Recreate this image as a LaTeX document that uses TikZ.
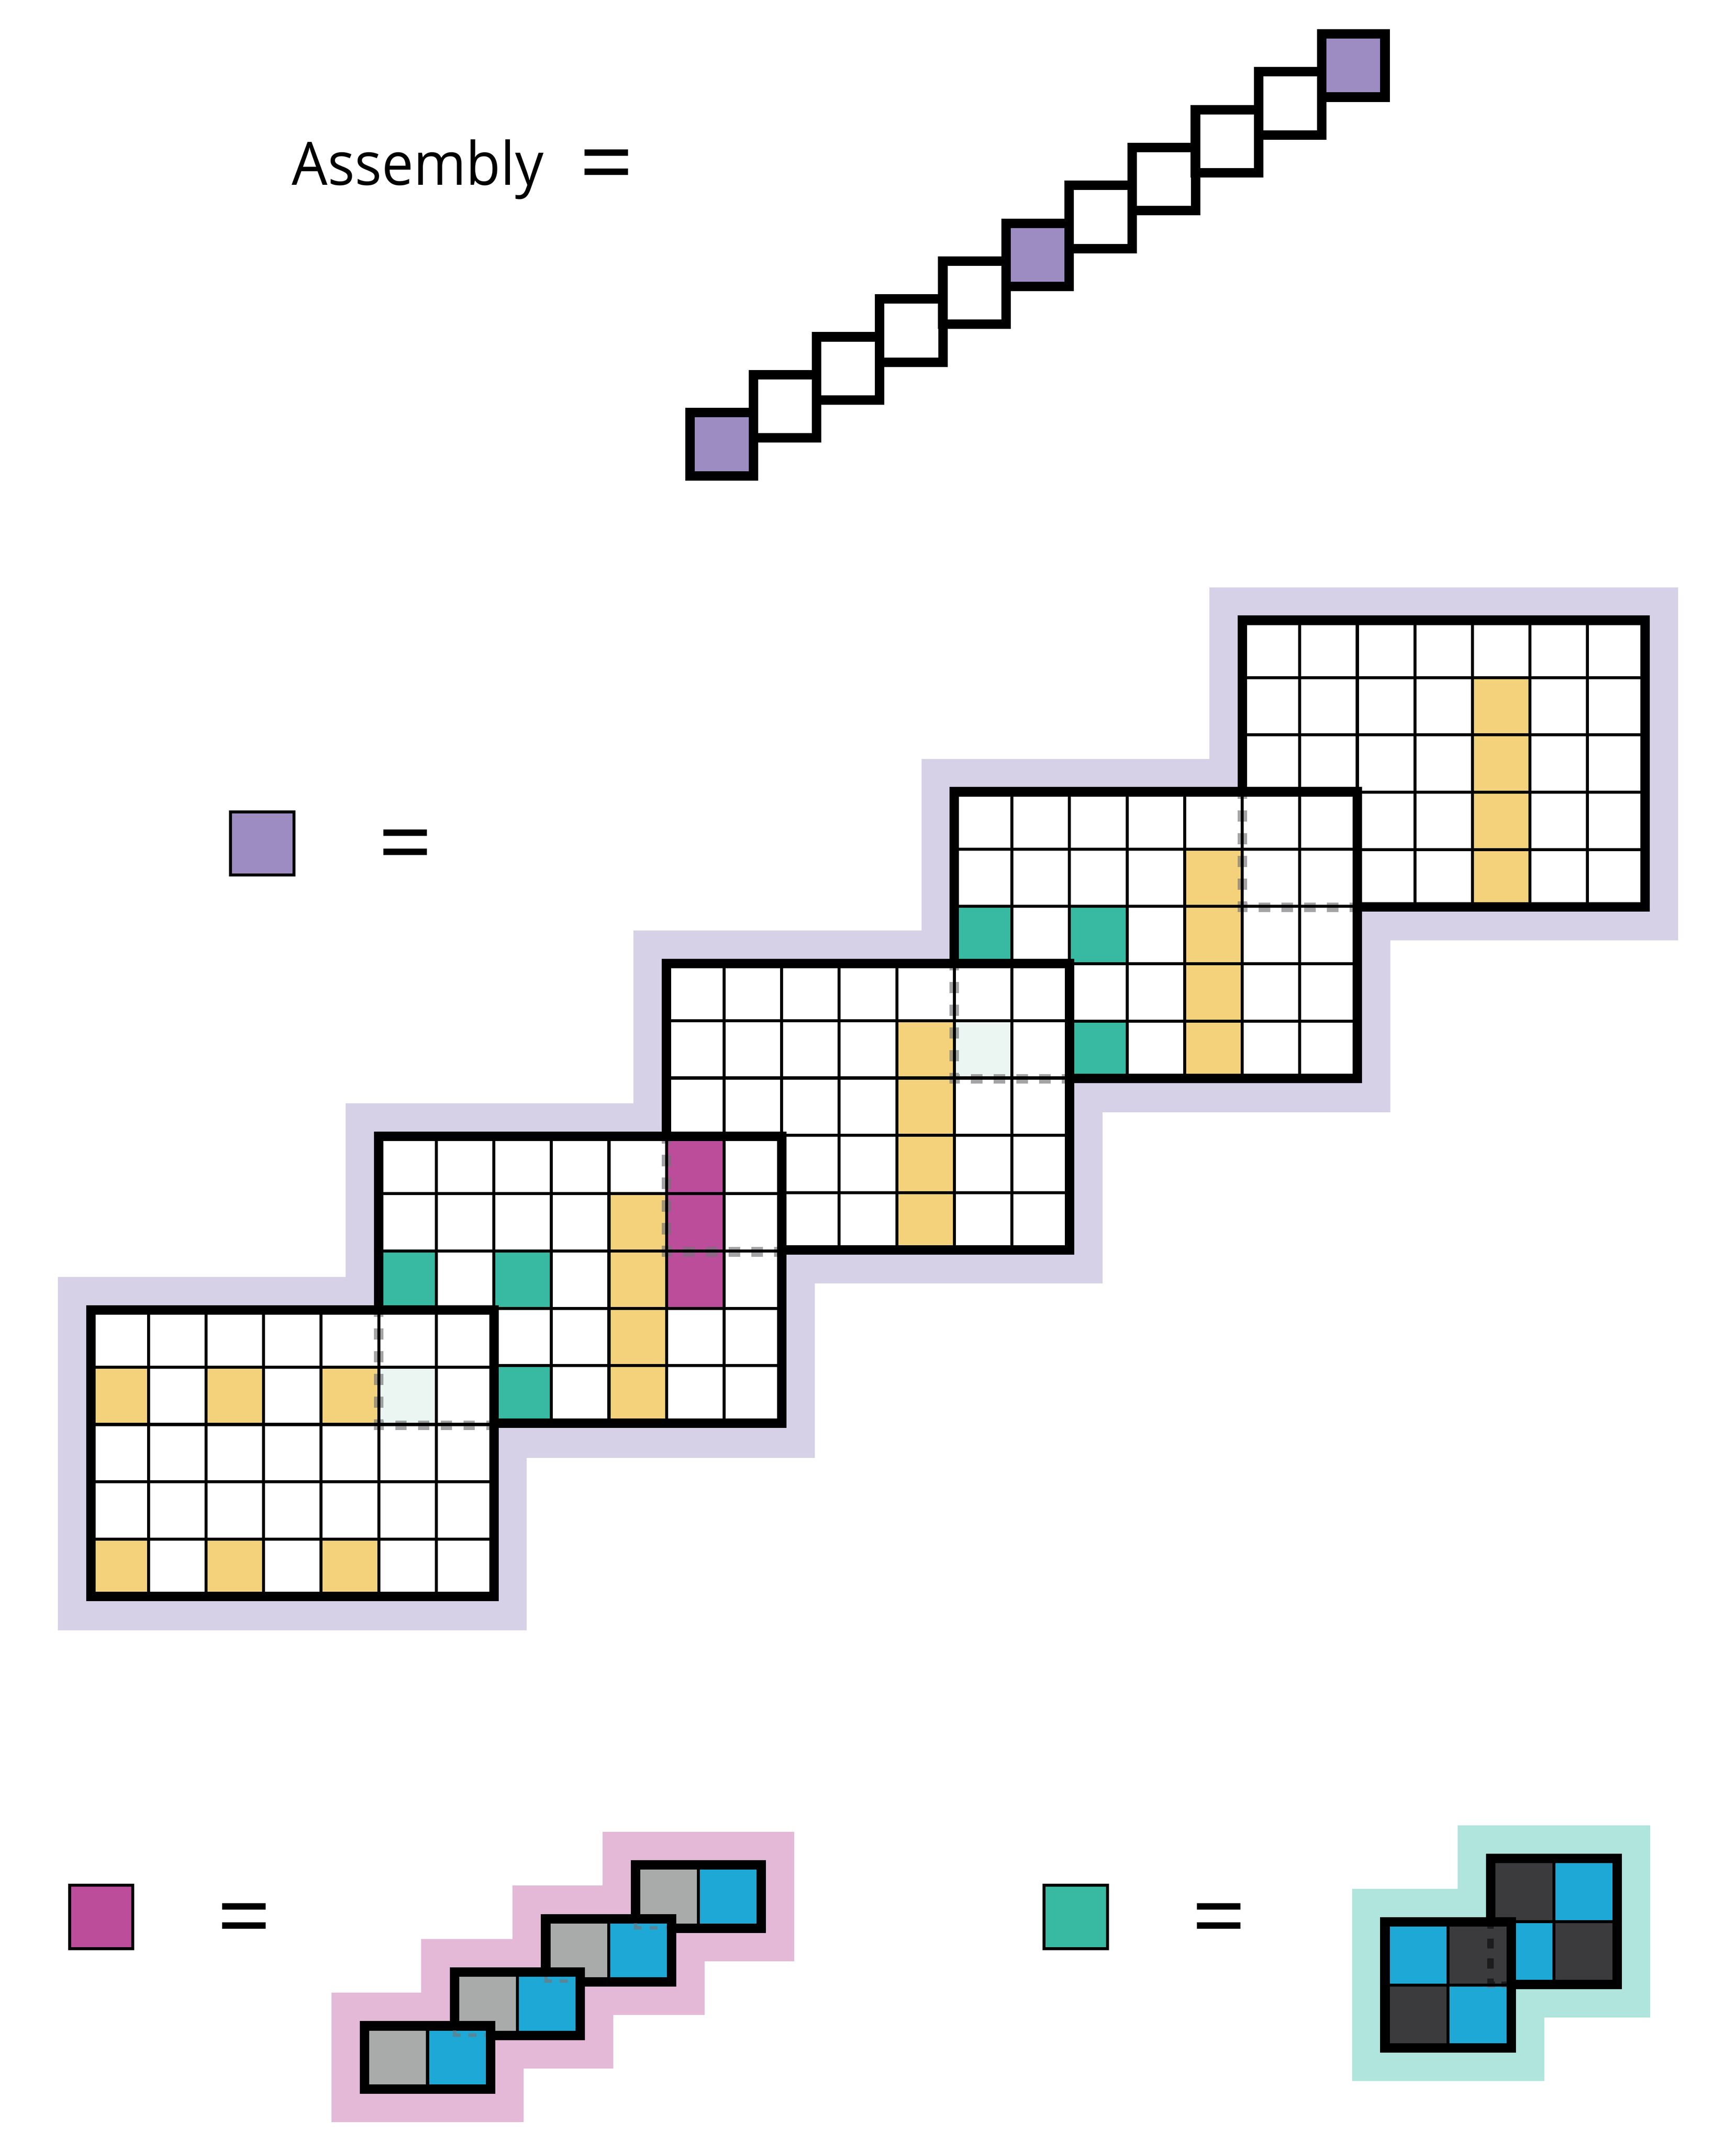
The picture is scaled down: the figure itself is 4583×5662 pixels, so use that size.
\documentclass[tikz,border=0pt]{standalone}
\usepackage{fontspec}
\setmainfont{Open Sans}

\definecolor{cellpurple}{HTML}{9C8CC2}
\definecolor{cellyellow}{HTML}{F4D27B}
\definecolor{cellteal}{HTML}{38B9A1}
\definecolor{cellmagenta}{HTML}{BB4D9B}
\definecolor{cellpale}{HTML}{EBF5F1}
\definecolor{cellblue}{HTML}{1EA8D5}
\definecolor{cellgray}{HTML}{A9ABAA}
\definecolor{celldark}{HTML}{3B3B3D}
\definecolor{haloviolet}{HTML}{D6D1E7}
\definecolor{halopink}{HTML}{E4B9D8}
\definecolor{halomint}{HTML}{AFE5DC}
\definecolor{seamgray}{HTML}{757579}

% big plate: x, y, coloured cells, seam path
\newcommand{\plate}[4]{
    \begin{scope}[shift={(#1,#2)}]
        \fill[white] (0,0) rectangle (1064,757);
        \foreach \cx/\cy/\tint in {#3}
            \fill[\tint] (\cx*152,\cy*151.4) rectangle ++(152,151.4);
        #4
        \foreach \i in {1,...,6}
            \draw[gridline] (\i*152,0) -- (\i*152,757);
        \foreach \j in {1,...,4}
            \draw[gridline] (0,\j*151.4) -- (1064,\j*151.4);
        \draw[frameline] (0,0) rectangle (1064,757);
    \end{scope}
}

\begin{document}
\begin{tikzpicture}[x=0.1mm, y=-0.1mm]
    % Styles
    \tikzstyle{gridline} = [black, line width=0.8mm]
    \tikzstyle{frameline} = [black, line width=2.5mm]
    \tikzstyle{seam} = [seamgray, opacity=0.66, line width=2.5mm, dash pattern=on 3mm off 3mm]
    \tikzstyle{seamsmall} = [seamgray, opacity=0.66, line width=0.9mm, dash pattern=on 2.8mm off 2.1mm on 2.1mm off 2.1mm on 2.1mm off 2.1mm]
    \tikzstyle{chainsq} = [draw, line width=2.5mm, minimum size=16.7mm, inner sep=0, outer sep=0]
    \tikzstyle{keysq} = [draw, line width=0.8mm, minimum size=16.7mm, inner sep=0, outer sep=0]
    \tikzstyle{eqsign} = [inner sep=0, font=\fontsize{72}{72}\selectfont]

    \useasboundingbox (0,0) rectangle (4583,5662);

    % Top row
    \node[anchor=base west, inner sep=0, xscale=0.945, font=\fontsize{45}{50}\selectfont] (title) at (770,489) {Assembly};
    \node[eqsign] (eq0) at (1602,457) {=};
    \foreach \i/\tint in {0/cellpurple,1/white,2/white,3/white,4/white,5/cellpurple,6/white,7/white,8/white,9/white,10/cellpurple}
        \node[chainsq, fill=\tint] (link\i) at (1906+166.75*\i,1173-100*\i) {};

    % Purple key and its halo
    \node[keysq, fill=cellpurple] (keypurple) at (692.5,2227.5) {};
    \node[eqsign] (eq1) at (1070.5,2253) {=};
    \foreach \x/\y/\b in {3280/1638/2483,2520/2091/2937,1760/2544/3389,1000/3001/3850,240/3459/4305}
        \fill[haloviolet] (\x-87,\y-87) rectangle (\x+1151,\b);

    % Plates, top one first
    \plate{3280}{1638}{4/1/cellyellow,4/2/cellyellow,4/3/cellyellow,4/4/cellyellow}{}
    \plate{2520}{2091}{0/2/cellteal,2/2/cellteal,2/4/cellteal,4/1/cellyellow,4/2/cellyellow,4/3/cellyellow,4/4/cellyellow}
        {\draw[seam] (760,-11) -- (760,305) -- (1064,305);}
    \plate{1760}{2544}{5/1/cellpale,4/1/cellyellow,4/2/cellyellow,4/3/cellyellow,4/4/cellyellow}
        {\draw[seam] (760,-11) -- (760,305) -- (1064,305);}
    \plate{1000}{3001}{0/2/cellteal,2/2/cellteal,2/4/cellteal,4/1/cellyellow,4/2/cellyellow,4/3/cellyellow,4/4/cellyellow,5/0/cellmagenta,5/1/cellmagenta,5/2/cellmagenta}
        {\draw[seam] (760,-11) -- (760,305) -- (1064,305);}
    \plate{240}{3459}{0/1/cellyellow,2/1/cellyellow,4/1/cellyellow,0/4/cellyellow,2/4/cellyellow,4/4/cellyellow,5/1/cellpale}
        {\draw[seam] (760,-11) -- (760,305) -- (1064,305);}

    % Magenta key and its stair
    \node[keysq, fill=cellmagenta] (keymagenta) at (267,5062.5) {};
    \node[eqsign] (eq2) at (644.5,5088) {=};
    \foreach \x/\y in {1678/4925,1441/5067,1200/5208,963/5350}
        \fill[halopink] (\x-87.5,\y-87.5) rectangle (\x+419.5,\y+254.5);
    \foreach \x/\y/\dx in {1678/4925/0,1441/5067/237,1200/5208/241,963/5350/237} {
        \fill[cellgray] (\x,\y) rectangle ++(166,167);
        \fill[cellblue] (\x+166,\y) rectangle ++(166,167);
        \draw[gridline] (\x+166,\y) -- (\x+166,\y+167);
        \draw[frameline] (\x,\y) rectangle (\x+332,\y+167);
        \ifnum\dx>0
            \draw[seamsmall] (\x+\dx,\y+12) -- (\x+\dx,\y+24) -- (\x+319,\y+24);
        \fi
    }

    % Teal key and its pair
    \node[keysq, fill=cellteal] (keyteal) at (2840.5,5062.5) {};
    \node[eqsign] (eq3) at (3219,5088) {=};
    \fill[halomint] (3849,4821) rectangle (4357,5328);
    \fill[halomint] (3570,4988) rectangle (4078,5495);

    \fill[celldark] (3936,4908) rectangle (4103,5075);
    \fill[cellblue] (4103,4908) rectangle (4270,5075);
    \fill[cellblue] (3936,5075) rectangle (4103,5241);
    \fill[celldark] (4103,5075) rectangle (4270,5241);
    \draw[gridline] (4103,4908) -- (4103,5241);
    \draw[gridline] (3936,5075) -- (4270,5075);
    \draw[frameline] (3936,4908) rectangle (4270,5241);

    \fill[cellblue] (3657,5075) rectangle (3824,5242);
    \fill[celldark] (3824,5075) rectangle (3991,5242);
    \fill[celldark] (3657,5242) rectangle (3824,5408);
    \fill[cellblue] (3824,5242) rectangle (3991,5408);
    \draw[seamgray, opacity=0.66, line width=1.7mm, dash pattern=on 2.7mm off 2.6mm on 2.7mm off 2.6mm on 2.7mm off 2.6mm on 2.7mm off 1.8mm on 3mm] (3936,5066) -- (3936,5241) -- (3979,5241);
    \begin{scope}
        \clip (3824,5075) rectangle (3991,5242);
        \draw[black!89, line width=1.7mm, dash pattern=on 2.7mm off 2.6mm on 2.7mm off 2.6mm on 2.7mm off 2.6mm on 2.7mm off 1.8mm on 3mm] (3936,5066) -- (3936,5241) -- (3979,5241);
    \end{scope}
    \draw[gridline] (3824,5075) -- (3824,5408);
    \draw[gridline] (3657,5242) -- (3991,5242);
    \draw[frameline] (3657,5075) rectangle (3991,5408);
\end{tikzpicture}
\end{document}
